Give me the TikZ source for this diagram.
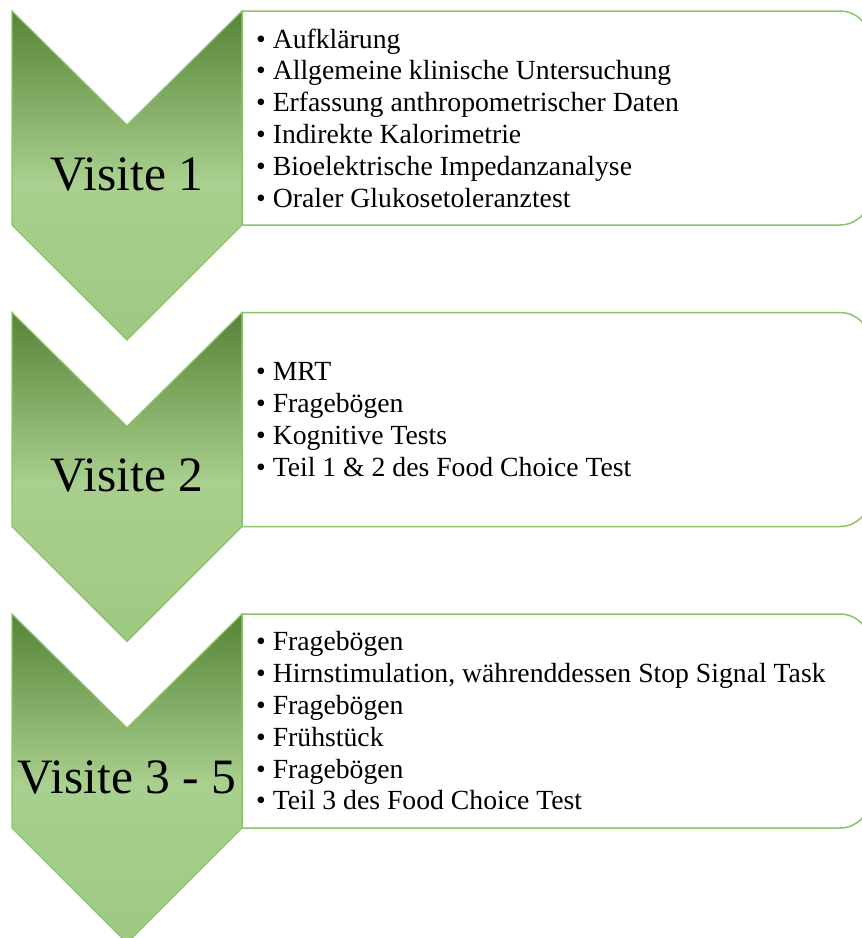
\documentclass[tikz,border=0pt]{standalone}
\usepackage{fontspec}
\setmainfont{Liberation Serif}
\definecolor{chvtop}{RGB}{86,132,55}
\definecolor{chvmid}{RGB}{169,208,142}
\definecolor{chvbot}{RGB}{157,201,131}
\definecolor{chvline}{RGB}{140,195,108}
\pgfdeclareverticalshading{chevshade}{100bp}{color(0bp)=(chvbot); color(25bp)=(chvbot);
  color(49bp)=(chvmid); color(75bp)=(chvtop); color(100bp)=(chvtop)}
\tikzset{
  chevron/.style={draw=chvline, line width=1.2pt, shading=chevshade},
  infobox/.style={draw=chvline, line width=1.5pt, fill=white},
  visitlabel/.style={font=\fontsize{49.5}{49.5}\selectfont, anchor=base, inner sep=0pt},
  itemlist/.style={font=\fontsize{27.7}{31.8}\selectfont, align=left, anchor=west, inner sep=0pt}
}
\begin{document}
\begin{tikzpicture}[x=1pt, y=-1pt]
  \useasboundingbox (0,0) rectangle (862,938);
  \def \gap {301.5} % distance from one visit to the next
  % boxes behind the chevrons
  \foreach \i in {0,1,2}
  {
    \pgfmathsetmacro\t{11+\gap*\i}
    \draw[infobox] (242,\t) -- (840,\t) arc[start angle=270, end angle=360, radius=30]
      -- (870,\t+184) arc[start angle=0, end angle=90, radius=30] -- (242,\t+214) -- cycle;
  }
  \foreach \i/\lbl in {0/Visite 1, 1/Visite 2, 2/Visite 3 - 5}
  {
    \pgfmathsetmacro\t{11+\gap*\i}
    \shade[chevron] (12,\t) -- ++(115,114) -- ++(115,-114) -- ++(0,214)
      -- ++(-115,115) -- ++(-115,-115) -- cycle;
    \node[visitlabel] (visit\i) at (127,\t+179) {\lbl};
  }
  \node[itemlist] (items0) at (256,118) {• Aufklärung\\• Allgemeine klinische Untersuchung\\• Erfassung anthropometrischer Daten\\• Indirekte Kalorimetrie\\• Bioelektrische Impedanzanalyse\\• Oraler Glukosetoleranztest};
  \node[itemlist] (items1) at (256,419.5) {• MRT\\• Fragebögen\\• Kognitive Tests\\• Teil 1 \& 2 des Food Choice Test};
  \node[itemlist] (items2) at (256,721) {• Fragebögen\\• Hirnstimulation, währenddessen Stop Signal Task\\• Fragebögen\\• Frühstück\\• Fragebögen\\• Teil 3 des Food Choice Test};
\end{tikzpicture}
\end{document}
